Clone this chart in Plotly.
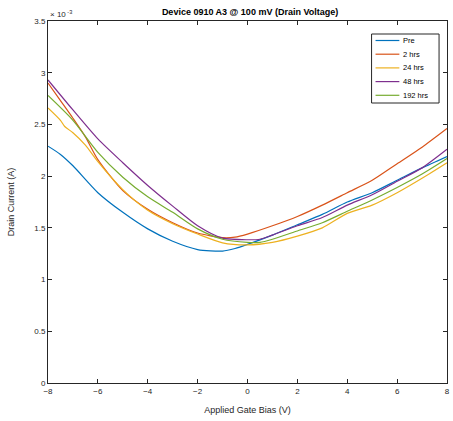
import plotly.graph_objects as go

# Gate bias (V)
x_pre = [-8, -7.5, -7, -6, -5, -4, -3, -2, -1, -0.5, 0, 1, 2, 3, 4, 5, 6, 7, 8]
y_pre = [2.29, 2.21, 2.10, 1.84, 1.65, 1.49, 1.37, 1.29, 1.275, 1.30, 1.34, 1.43, 1.53, 1.63, 1.75, 1.84, 1.96, 2.08, 2.19]

x_2h = [-8, -7.5, -7, -6.5, -6, -5, -4, -3, -2, -1, -0.5, 0, 1, 2, 3, 4, 5, 6, 7, 8]
y_2h = [2.90, 2.73, 2.56, 2.38, 2.16, 1.86, 1.68, 1.55, 1.45, 1.405, 1.41, 1.44, 1.52, 1.61, 1.72, 1.84, 1.96, 2.12, 2.28, 2.46]

x_24h = [-8, -7.5, -7.33, -7, -6.5, -6, -5, -4, -3, -2, -1, 0, 1, 2, 3, 4, 5, 6, 7, 8]
y_24h = [2.66, 2.54, 2.48, 2.42, 2.30, 2.14, 1.87, 1.67, 1.54, 1.44, 1.355, 1.335, 1.36, 1.42, 1.50, 1.64, 1.72, 1.84, 1.98, 2.13]

x_48h = [-8, -7, -6, -5, -4, -3, -2, -1, 0, 0.5, 1, 2, 3, 4, 5, 6, 7, 8]
y_48h = [2.93, 2.64, 2.36, 2.13, 1.91, 1.71, 1.52, 1.40, 1.385, 1.39, 1.43, 1.52, 1.60, 1.72, 1.82, 1.95, 2.08, 2.26]

x_192h = [-8, -7, -6, -5, -4, -3, -2, -1, 0, 0.5, 1, 2, 3, 4, 5, 6, 7, 8]
y_192h = [2.78, 2.54, 2.23, 1.99, 1.80, 1.65, 1.49, 1.39, 1.36, 1.36, 1.39, 1.47, 1.55, 1.66, 1.77, 1.89, 2.02, 2.17]

series_names = ["Pre", "2 hrs", "24 hrs", "48 hrs", "192 hrs"]
colors = ["#0072BD", "#D95319", "#EDB120", "#7E2F8E", "#77AC30"]

x_ticks = [-8, -6, -4, -2, 0, 2, 4, 6, 8]
y_ticks = [0, 0.5, 1, 1.5, 2, 2.5, 3, 3.5]
y_ticktext = ["0", "0.5", "1", "1.5", "2", "2.5", "3", "3.5"]

fig = go.Figure()
for xs, ys, name, c in zip([x_pre, x_2h, x_24h, x_48h, x_192h],
                           [y_pre, y_2h, y_24h, y_48h, y_192h],
                           series_names, colors):
    fig.add_trace(go.Scatter(x=xs, y=ys, mode="lines", name=name, showlegend=False,
                             line=dict(color=c, width=1.2, shape="spline", smoothing=0.7)))

axis_col = "#262626"
fig.update_layout(
    width=453, height=421,
    margin=dict(l=48, r=3, t=21, b=38),
    paper_bgcolor="white", plot_bgcolor="white",
    font=dict(family="Liberation Sans, Arial, sans-serif", size=8, color=axis_col),
    title=dict(text="<b>Device 0910 A3 @ 100 mV (Drain Voltage)</b>",
               x=0.552, xanchor="center", y=0.971, yanchor="middle",
               font=dict(size=9, color="black")),
    showlegend=False,
)
fig.update_xaxes(range=[-8, 8], tickvals=x_ticks, ticks="inside", ticklen=4,
                 tickcolor=axis_col, showline=True, linecolor=axis_col, linewidth=1,
                 mirror="ticks", showgrid=False, zeroline=False,
                 title=dict(text="Applied Gate Bias (V)", font=dict(size=9), standoff=12))
fig.update_yaxes(range=[0, 3.5], tickvals=y_ticks, ticktext=y_ticktext, ticks="inside",
                 ticklen=4, tickcolor=axis_col, showline=True, linecolor=axis_col,
                 linewidth=1, mirror="ticks", showgrid=False, zeroline=False,
                 title=dict(text="Drain Current (A)", font=dict(size=9), standoff=18))
fig.add_annotation(text="× 10<sup> -3</sup>", xref="paper", yref="paper",
                   x=0.0, y=1.0, xanchor="left", yanchor="bottom", showarrow=False,
                   font=dict(size=8, color=axis_col))

# Legend box (paper coordinates)
W, H = 402.0, 362.0
def px(sx):
    return (sx - 48) / W
def py(sy):
    return (383 - sy) / H

fig.add_shape(type="rect", xref="paper", yref="paper",
              x0=px(374), x1=px(442), y0=py(103), y1=py(34),
              line=dict(color=axis_col, width=1), fillcolor="white", layer="above")
for i, (name, c) in enumerate(zip(series_names, colors)):
    sy = 40.5 + i * 13.7
    fig.add_shape(type="line", xref="paper", yref="paper",
                  x0=px(378), x1=px(402), y0=py(sy), y1=py(sy),
                  line=dict(color=c, width=1.2), layer="above")
    fig.add_annotation(text=name, xref="paper", yref="paper", x=px(404), y=py(sy),
                       xanchor="left", yanchor="middle", showarrow=False,
                       font=dict(size=7.5, color="black"))

fig.write_html("out.html", config={"displayModeBar": False},
               post_script="document.body.style.margin='0';document.body.style.overflow='hidden';")
